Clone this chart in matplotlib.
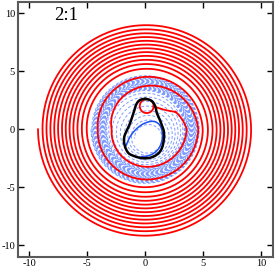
import numpy as np
import matplotlib
matplotlib.use("Agg")
import matplotlib.pyplot as plt

plt.rcParams['axes.unicode_minus'] = False
plt.rcParams['font.family'] = ['Liberation Serif', 'DejaVu Serif']

# ---- data ----
# red spiral: |x| where it crosses y=0, alternating left/right (each half turn)
red_left_x = [9.25, 8.86, 8.52, 8.18, 7.85, 7.52, 7.18, 6.86, 6.53, 6.20, 5.85, 5.47, 5.05, 4.10, 2.90]
red_right_x = [9.12, 8.74, 8.40, 8.08, 7.76, 7.45, 7.13, 6.80, 6.48, 6.15, 5.80, 5.40, 4.95, 4.57, 3.57]
red_tail_x = [2.60, 1.80, 1.10, 0.72]
red_tail_y = [1.50, 1.65, 1.85, 1.97]
red_loop_center = (0.12, 2.00)
red_loop_radius = 0.60

# blue dashed spiral: radius at each full turn and centre drift
blue_r = [4.68, 4.61, 4.53, 4.46, 4.38, 4.31, 4.23, 4.16, 4.08, 4.01, 3.93, 3.86, 3.78, 3.71,
          3.63, 3.56, 3.48, 3.41, 3.33, 3.15, 2.90, 2.60, 2.30, 2.00, 1.70, 1.40, 1.12]
blue_cx = [0.0] * 19 + [0.0, 0.05, 0.1, 0.15, 0.2, 0.2, 0.2, 0.2]
blue_cy = [0.0] * 19 + [-0.1, -0.2, -0.3, -0.4, -0.5, -0.6, -0.7, -0.8]

# black closed curve
black_x = [0.00, 0.55, 0.85, 1.00, 1.30, 1.60, 1.55, 1.25, 0.60, -0.20, -1.00, -1.50, -1.80, -1.80, -1.40, -1.05, -0.80, -0.50]
black_y = [2.62, 2.45, 2.00, 1.40, 0.70, -0.20, -1.20, -1.95, -2.40, -2.50, -2.30, -2.00, -1.30, -0.60, 0.30, 1.30, 2.10, 2.50]

# blue solid curve
bsol_x = [-1.65, -1.35, -0.90, -0.30, 0.35, 0.85, 1.25, 1.45, 1.45, 1.20, 0.75, 0.20, -0.30]
bsol_y = [-1.40, -0.70, -0.10, 0.40, 0.66, 0.65, 0.35, -0.20, -0.90, -1.60, -2.05, -2.30, -2.35]

xticks = [-10, -5, 0, 5, 10]
yticks = [-10, -5, 0, 5, 10]
label = "2:1"


def catmull(xs, ys, closed=False, n=20):
    P = np.column_stack([xs, ys]).astype(float)
    if closed:
        P = np.vstack([P[-1], P, P[0], P[1]])
    else:
        P = np.vstack([2 * P[0] - P[1], P, 2 * P[-1] - P[-2]])
    out = []
    t = np.linspace(0, 1, n, endpoint=False)[:, None]
    for i in range(1, len(P) - 2):
        p0, p1, p2, p3 = P[i - 1], P[i], P[i + 1], P[i + 2]
        seg = 0.5 * ((2 * p1) + (-p0 + p2) * t + (2 * p0 - 5 * p1 + 4 * p2 - p3) * t ** 2
                     + (-p0 + 3 * p1 - 3 * p2 + p3) * t ** 3)
        out.append(seg)
    out.append(P[-2][None, :])
    o = np.vstack(out)
    return o[:, 0], o[:, 1]


fig = plt.figure(figsize=(2.75, 2.69), dpi=100)
ax = fig.add_axes([17.7 / 275, (269 - 256.7) / 269, (272.9 - 17.7) / 275, (256.7 - 1.9) / 269])

# blue dashed spiral (angle measured ccw, starting at left)
nb = len(blue_r)
th = np.linspace(0, 2 * np.pi * (nb - 1), 6000)
k = np.arange(nb) * 2 * np.pi
rb = np.interp(th, k, blue_r)
cxb = np.interp(th, k, blue_cx)
cyb = np.interp(th, k, blue_cy)
ax.plot(cxb + rb * np.cos(np.pi + th), cyb + rb * np.sin(np.pi + th),
        color='#7e9bff', lw=0.7, dashes=[3, 2], zorder=2)

# red spiral
seq = []
for a, b in zip(red_left_x, red_right_x):
    seq += [a, b]
kk = np.arange(len(seq)) * np.pi
end_th = kk[-1] + 0.17 * np.pi
th = np.linspace(0, end_th, 6000)
rr = np.interp(th, np.append(kk, end_th), np.append(seq, 3.0))
ax.plot(rr * np.cos(np.pi + th), rr * np.sin(np.pi + th), color='red', lw=1.3, zorder=3)
tx, ty = catmull(red_tail_x, red_tail_y)
ax.plot(tx, ty, color='red', lw=1.3, zorder=3)
phi = np.linspace(0, 2 * np.pi, 200)
ax.plot(red_loop_center[0] + red_loop_radius * np.cos(phi),
        red_loop_center[1] + red_loop_radius * np.sin(phi), color='red', lw=1.3, zorder=3)

# blue solid
sx, sy = catmull(bsol_x, bsol_y)
ax.plot(sx, sy, color='#2050f0', lw=1.1, zorder=4)

# black closed
bx, by = catmull(black_x, black_y, closed=True)
ax.plot(bx, by, color='black', lw=1.8, zorder=5)

ax.text(-6.8, 9.85, label, fontsize=13.5, ha='center', va='center', family=['Liberation Serif'])

ax.set_xlim(-11, 11)
ax.set_ylim(-11, 11)
ax.set_xticks(xticks)
ax.set_yticks(yticks)
ax.tick_params(direction='in', length=4, width=1, top=True, right=True, labelsize=7.5, pad=2,
               colors='black')
for s in ax.spines.values():
    s.set_color('#5a5a5a')
    s.set_linewidth(1.5)

fig.savefig('out.png', dpi=100)
